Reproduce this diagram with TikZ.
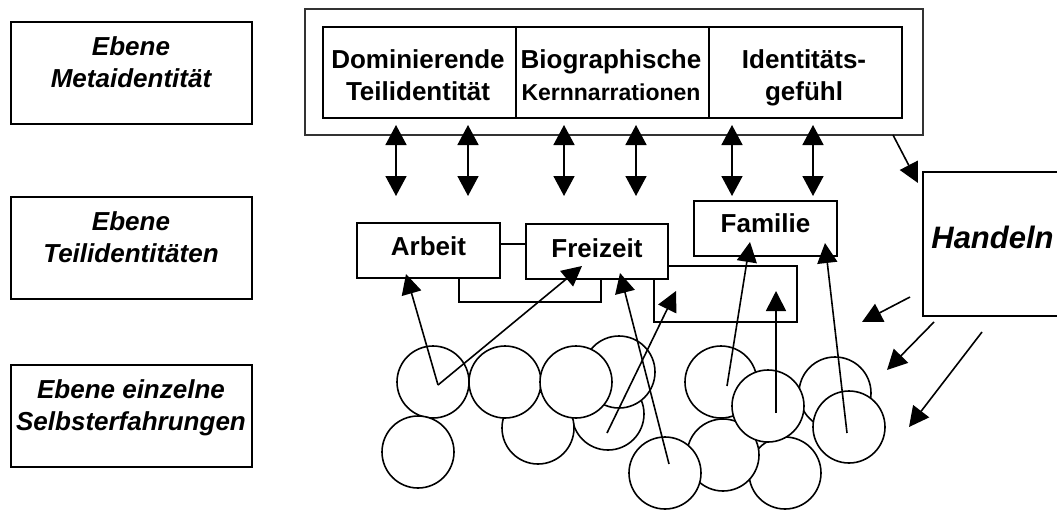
\documentclass[tikz,border=0pt]{standalone}
\usepackage{fontspec}
\setmainfont{Liberation Sans}
\usetikzlibrary{arrows.meta}
\tikzset{
  box/.style={draw, line width=1.8pt, fill=white, rectangle, inner sep=0pt, outer sep=0pt},
  lbl/.style={font=\fontsize{26}{32}\selectfont\bfseries\itshape, align=center, inner sep=0pt, anchor=north},
  txt/.style={font=\fontsize{26}{32}\selectfont\bfseries, align=center, inner sep=0pt},
  blob/.style={circle, draw, line width=1.6pt, fill=white, minimum size=72pt, inner sep=0pt},
  arr/.style={line width=1.6pt, -{Triangle[length=20pt,width=20pt]}},
  dbl/.style={line width=1.6pt, {Triangle[length=20pt,width=21pt]}-{Triangle[length=20pt,width=21pt]}},
  plain/.style={line width=1.8pt},
}
\begin{document}
\begin{tikzpicture}[x=1pt,y=-1pt]
\useasboundingbox (0,0) rectangle (1057,509);
\clip (0,0) rectangle (1057,509);
\fill[white] (0,0) rectangle (1057,509);

% level boxes on the left
\node[box, minimum width=241pt, minimum height=102pt] (L1) at (131.5,73) {};
\node[box, minimum width=241pt, minimum height=102pt] (L2) at (131.5,248) {};
\node[box, minimum width=241pt, minimum height=102pt] (L3) at (131.5,416) {};
\node[lbl] (L1t) at (131,32.6) {\strut Ebene\\Metaidentität};
\node[lbl] (L2t) at (131,207.6) {\strut Ebene\\Teilidentitäten};
\node[lbl] (L3t) at (131,375.6) {\strut Ebene einzelne\\Selbsterfahrungen};

% meta identity
\node[box, line width=1.4pt, draw=black!80, minimum width=618pt, minimum height=126pt] (meta) at (614,72) {};
\node[box, minimum width=193pt, minimum height=91pt] (dom) at (419.5,72.5) {};
\node[box, minimum width=193pt, minimum height=91pt] (bio) at (612.5,72.5) {};
\node[box, minimum width=193pt, minimum height=91pt] (idg) at (805.5,72.5) {};
\node[txt, anchor=north] (domt) at (418,45.6) {\strut Dominierende\\Teilidentität};
\node[txt, anchor=north] (biot) at (611,45.6) {\strut Biographische\\{\fontsize{23}{32}\selectfont Kernnarrationen}};
\node[txt, anchor=north] (idgt) at (804,45.6) {\strut Identitäts-\\gefühl};

% double arrows between levels
\foreach \x [count=\i] in {396,468,564,636,732,813} {
  \coordinate (u\i) at (\x,125);
  \coordinate (d\i) at (\x,196);
  \draw[dbl] (u\i) -- (d\i);
}

% partial identities
\draw[plain] (459,244) rectangle (601,302);
\node[box, minimum width=143pt, minimum height=56pt] (leer) at (725.5,294) {};
\node[box, minimum width=143pt, minimum height=55pt] (arbeit) at (428.5,250.5) {};
\node[box, minimum width=142pt, minimum height=55pt] (freizeit) at (597,251.5) {};
\node[box, minimum width=143pt, minimum height=55pt] (familie) at (765.5,228.5) {};
\node[txt, anchor=base] (arbeitt) at (428.5,255) {Arbeit};
\node[txt, anchor=base] (freizeitt) at (597,257) {Freizeit};
\node[txt, anchor=base] (familiet) at (765.5,232) {Familie};

% acting
\node[box, minimum width=145pt, minimum height=144pt] (handeln) at (995.5,244) {};
\node[font=\fontsize{31}{37}\selectfont\bfseries\itshape, inner sep=0pt, anchor=base] (handelnt) at (992.5,248) {Handeln};

% self experiences
\node[blob] (c7) at (608,414) {};
\node[blob] (c6) at (538,428) {};
\node[blob] (c4) at (619,372) {};
\node[blob] (c1) at (433,382) {};
\node[blob] (c2) at (505,382) {};
\node[blob] (c3) at (576,382) {};
\node[blob] (c5) at (418,452) {};
\node[blob] (c9) at (721,382) {};
\node[blob] (c11) at (835,393) {};
\node[blob] (c14) at (785,473) {};
\node[blob] (c13) at (723,455) {};
\node[blob] (c10) at (768,406) {};
\node[blob] (c12) at (849,427) {};
\node[blob] (c8) at (665,473) {};

% arrows from experiences to partial identities
\coordinate (s1) at (438,385);
\coordinate (s3) at (669,464);
\coordinate (s4) at (607,433);
\coordinate (s5) at (727,386);
\coordinate (s6) at (776,413);
\coordinate (s7) at (847,433);
\coordinate (tA) at (406,274);
\coordinate (tF1) at (582,266);
\coordinate (tF2) at (620,273);
\coordinate (tL1) at (676,291);
\coordinate (tL2) at (776,291);
\coordinate (tM1) at (750,242);
\coordinate (tM2) at (825,243);
\draw[arr] (s1) -- (tA);
\draw[arr] (s1) -- (tF1);
\draw[arr] (s3) -- (tF2);
\draw[arr] (s4) -- (tL1);
\draw[arr] (s5) -- (tM1);
\draw[arr] (s6) -- (tL2);
\draw[arr] (s7) -- (tM2);

% meta -> acting, acting -> experiences
\coordinate (m1) at (893,135);
\coordinate (h0) at (918,183);
\draw[arr] (m1) -- (h0);
\coordinate (h1s) at (910,297);
\coordinate (h1e) at (862,322);
\coordinate (h2s) at (934,322);
\coordinate (h2e) at (887,370);
\coordinate (h3s) at (982,332);
\coordinate (h3e) at (909,427);
\draw[arr] (h1s) -- (h1e);
\draw[arr] (h2s) -- (h2e);
\draw[arr] (h3s) -- (h3e);
\end{tikzpicture}
\end{document}
